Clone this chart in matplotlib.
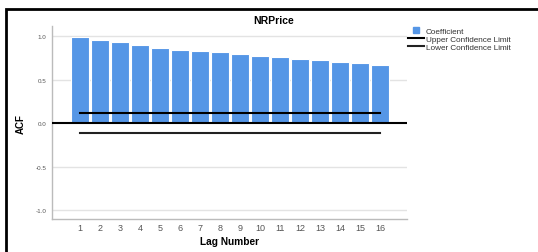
import matplotlib
matplotlib.use('Agg')
import matplotlib.pyplot as plt
from matplotlib.patches import Rectangle
from matplotlib.lines import Line2D

plt.rcParams['font.family'] = ['Liberation Sans', 'DejaVu Sans']

# ── Data ────────────────────────────────────────────────────────────────────
lags = list(range(1, 17))
acf = [0.985, 0.957, 0.927, 0.893, 0.862, 0.843, 0.824, 0.812,
       0.789, 0.770, 0.755, 0.740, 0.720, 0.700, 0.686, 0.667]
upper_limit = 0.113
lower_limit = -0.110
yticks = [-1.0, -0.5, 0.0, 0.5, 1.0]

BAR = '#5596e6'
GRID = '#e3e3e3'
TICK = '#555555'

fig = plt.figure(figsize=(5.38, 2.53), dpi=100)
ax = fig.add_axes([0.0967, 0.130, 0.66, 0.763])

for y in yticks:
    if y != 0:
        ax.axhline(y, color=GRID, linewidth=1, zorder=0)

ax.bar(lags, acf, width=0.9, color=BAR, edgecolor='white', linewidth=0.8, zorder=2)
ax.axhline(0, color='black', linewidth=1.5, zorder=3)
ax.plot([lags[0], lags[-1]], [upper_limit, upper_limit], color='black', linewidth=1.5, zorder=4)
ax.plot([lags[0], lags[-1]], [lower_limit, lower_limit], color='#222222', linewidth=1.5, zorder=4)

ax.set_xlim(-0.4, 17.35)
ax.set_ylim(-1.10, 1.115)
ax.set_xticks(lags)
ax.set_xticklabels([str(l) for l in lags], fontsize=6.5, color=TICK)
ax.set_yticks(yticks)
ax.set_yticklabels([f'{v:.1f}' for v in yticks], fontsize=4.5, color=TICK)
ax.tick_params(length=0, pad=4)
ax.tick_params(axis='x', pad=3)

for s in ['top', 'right']:
    ax.spines[s].set_visible(False)
for s in ['left', 'bottom']:
    ax.spines[s].set_color('#bbbbbb')
    ax.spines[s].set_linewidth(1)

ax.set_xlabel('Lag Number', fontsize=7.3, fontweight='bold', labelpad=3)
ax.set_ylabel('ACF', fontsize=7, fontweight='bold', labelpad=7)

fig.text(274 / 538, 1 - 21 / 253, 'NRPrice', fontsize=7.5, fontweight='bold',
         ha='center', va='center')

# legend drawn in figure coords
handles = [
    Line2D([], [], marker='s', linestyle='none', markersize=5, color=BAR),
    Line2D([], [], color='black', linewidth=1.5),
    Line2D([], [], color='#222222', linewidth=1.5),
]
labels = ['Coefficient', 'Upper Confidence Limit', 'Lower Confidence Limit']
fig.legend(handles, labels, loc='upper left', bbox_to_anchor=(408 / 538, 1 - 28 / 253),
           frameon=False, fontsize=5.9, handlelength=2.0, handletextpad=0.15,
           labelspacing=0.05, borderpad=0, borderaxespad=0, labelcolor='#333333')

# outer frame
fig.patches.append(Rectangle((6 / 538, -0.05), 1.1, 1 - 9.5 / 253 + 0.05,
                             transform=fig.transFigure, fill=False,
                             edgecolor='black', linewidth=2))

fig.savefig('out.png', dpi=100)
